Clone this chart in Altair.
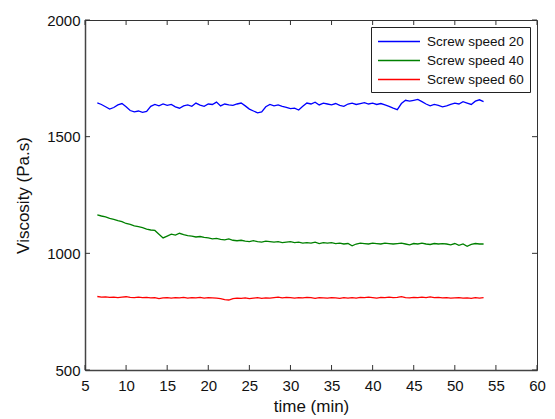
import altair as alt
import pandas as pd

times = [6.5, 7.0, 7.5, 8.0, 8.5, 9.0, 9.5, 10.0, 10.5, 11.0,
         11.5, 12.0, 12.5, 13.0, 13.5, 14.0, 14.5, 15.0, 15.5, 16.0,
         16.5, 17.0, 17.5, 18.0, 18.5, 19.0, 19.5, 20.0, 20.5, 21.0,
         21.5, 22.0, 22.5, 23.0, 23.5, 24.0, 24.5, 25.0, 25.5, 26.0,
         26.5, 27.0, 27.5, 28.0, 28.5, 29.0, 29.5, 30.0, 30.5, 31.0,
         31.5, 32.0, 32.5, 33.0, 33.5, 34.0, 34.5, 35.0, 35.5, 36.0,
         36.5, 37.0, 37.5, 38.0, 38.5, 39.0, 39.5, 40.0, 40.5, 41.0,
         41.5, 42.0, 42.5, 43.0, 43.5, 44.0, 44.5, 45.0, 45.5, 46.0,
         46.5, 47.0, 47.5, 48.0, 48.5, 49.0, 49.5, 50.0, 50.5, 51.0,
         51.5, 52.0, 52.5, 53.0, 53.5]

speed20 = [1645, 1638, 1628, 1618, 1625, 1636, 1642, 1628, 1612, 1606,
           1610, 1604, 1608, 1630, 1638, 1632, 1640, 1634, 1638, 1628,
           1622, 1632, 1636, 1630, 1644, 1635, 1630, 1640, 1638, 1648,
           1632, 1640, 1636, 1634, 1640, 1644, 1632, 1618, 1610, 1602,
           1606, 1628, 1638, 1632, 1636, 1630, 1626, 1620, 1622, 1614,
           1630, 1644, 1640, 1648, 1636, 1644, 1640, 1636, 1642, 1634,
           1630, 1640, 1644, 1638, 1642, 1646, 1640, 1644, 1638, 1642,
           1636, 1630, 1622, 1616, 1642, 1656, 1652, 1656, 1660, 1650,
           1640, 1632, 1638, 1634, 1628, 1632, 1638, 1644, 1640, 1650,
           1644, 1638, 1652, 1658, 1650]

speed40 = [1165, 1160, 1156, 1150, 1146, 1140, 1136, 1128, 1124, 1118,
           1114, 1110, 1104, 1100, 1098, 1082, 1066, 1074, 1082, 1078,
           1086, 1080, 1076, 1074, 1070, 1072, 1068, 1066, 1062, 1064,
           1060, 1058, 1062, 1056, 1054, 1056, 1052, 1050, 1054, 1050,
           1048, 1052, 1050, 1048, 1050, 1046, 1048, 1050, 1046, 1048,
           1044, 1046, 1044, 1048, 1042, 1046, 1044, 1046, 1042, 1044,
           1040, 1042, 1032, 1040, 1044, 1042, 1040, 1044, 1042, 1040,
           1044, 1042, 1040, 1042, 1044, 1040, 1036, 1042, 1040, 1044,
           1040, 1038, 1042, 1040, 1042, 1040, 1036, 1042, 1034, 1040,
           1030, 1038, 1042, 1040, 1040]

speed60 = [815, 812, 813, 811, 812, 810, 812, 814, 811, 810,
           812, 810, 811, 809, 810, 806, 809, 810, 808, 810,
           809, 811, 808, 810, 809, 811, 808, 810, 809, 808,
           806, 802, 800, 806, 808, 807, 809, 806, 808, 810,
           807, 809, 808, 810, 812, 809, 811, 810, 808, 810,
           809, 811, 810, 807, 810, 809, 808, 810, 809, 807,
           810, 808, 810, 808, 811, 810, 812, 810, 808, 811,
           810, 812, 810, 811, 814, 810, 809, 811, 810, 812,
           810, 813, 810, 811, 809, 810, 808, 809, 810, 808,
           809, 807, 810, 808, 810]

series_names = ["Screw speed 20", "Screw speed 40", "Screw speed 60"]
series_colors = ["#0000ff", "#008000", "#ff0000"]
x_ticks = [5, 10, 15, 20, 25, 30, 35, 40, 45, 50, 55, 60]
y_ticks = [500, 1000, 1500, 2000]

rows = []
for name, vals in zip(series_names, [speed20, speed40, speed60]):
    for t, v in zip(times, vals):
        rows.append({"time": t, "visc": v, "series": name})
df = pd.DataFrame(rows)

W, H = 452, 350
FONT = "Liberation Sans"

xs = alt.Scale(domain=[5, 60], nice=False, zero=False)
ys = alt.Scale(domain=[500, 2000], nice=False, zero=False)

lines = alt.Chart(df).mark_line(strokeWidth=1.3, clip=True).encode(
    x=alt.X("time:Q", scale=xs,
            axis=alt.Axis(values=x_ticks, title="time (min)", ticks=False,
                          grid=False, labelFontSize=15, titleFontSize=17,
                          labelPadding=8, titlePadding=5, labelFont=FONT,
                          titleFont=FONT, labelColor="#111", titleColor="#111",
                          titleFontWeight="normal", domainColor="#444",
                          domainWidth=1.5, labelFlush=False, format="d")),
    y=alt.Y("visc:Q", scale=ys,
            axis=alt.Axis(values=y_ticks, title="Viscosity (Pa.s)", ticks=False,
                          grid=False, labelFontSize=15, titleFontSize=17,
                          labelPadding=5, titlePadding=14, labelFont=FONT,
                          titleFont=FONT, labelColor="#111", titleColor="#111",
                          titleFontWeight="normal", domainColor="#444",
                          domainWidth=1.5, labelFlush=False, format="d")),
    color=alt.Color("series:N",
                    scale=alt.Scale(domain=series_names, range=series_colors),
                    legend=alt.Legend(title=None, orient="none",
                                      legendX=286, legendY=7,
                                      symbolType="M-1,0H4.6", symbolSize=225,
                                      symbolStrokeWidth=1.5,
                                      labelFontSize=13.5, labelFont=FONT,
                                      labelColor="#111",
                                      strokeColor="#222", fillColor="white",
                                      padding=6, rowPadding=4,
                                      labelOffset=33)),
    detail="series:N",
)

xt = pd.DataFrame({"t": x_ticks})
yt = pd.DataFrame({"v": y_ticks})

bottom_ticks = alt.Chart(xt).mark_rule(color="#333", strokeWidth=1).encode(
    x=alt.X("t:Q", scale=xs), y=alt.value(H), y2=alt.value(H - 5))
top_ticks = alt.Chart(xt).mark_rule(color="#333", strokeWidth=1).encode(
    x=alt.X("t:Q", scale=xs), y=alt.value(0), y2=alt.value(5))
left_ticks = alt.Chart(yt).mark_rule(color="#333", strokeWidth=1).encode(
    y=alt.Y("v:Q", scale=ys), x=alt.value(0), x2=alt.value(5))
right_ticks = alt.Chart(yt).mark_rule(color="#333", strokeWidth=1).encode(
    y=alt.Y("v:Q", scale=ys), x=alt.value(W), x2=alt.value(W - 5))

chart = alt.layer(lines, bottom_ticks, top_ticks, left_ticks, right_ticks).properties(
    width=W, height=H,
    autosize=alt.AutoSizeParams(type="none"),
    padding={"left": 77, "top": 12, "right": 10, "bottom": 49},
    background="white",
).configure_view(stroke="#333", strokeWidth=1)

chart.save("out.html", embed_options={"renderer": "svg", "actions": False})
